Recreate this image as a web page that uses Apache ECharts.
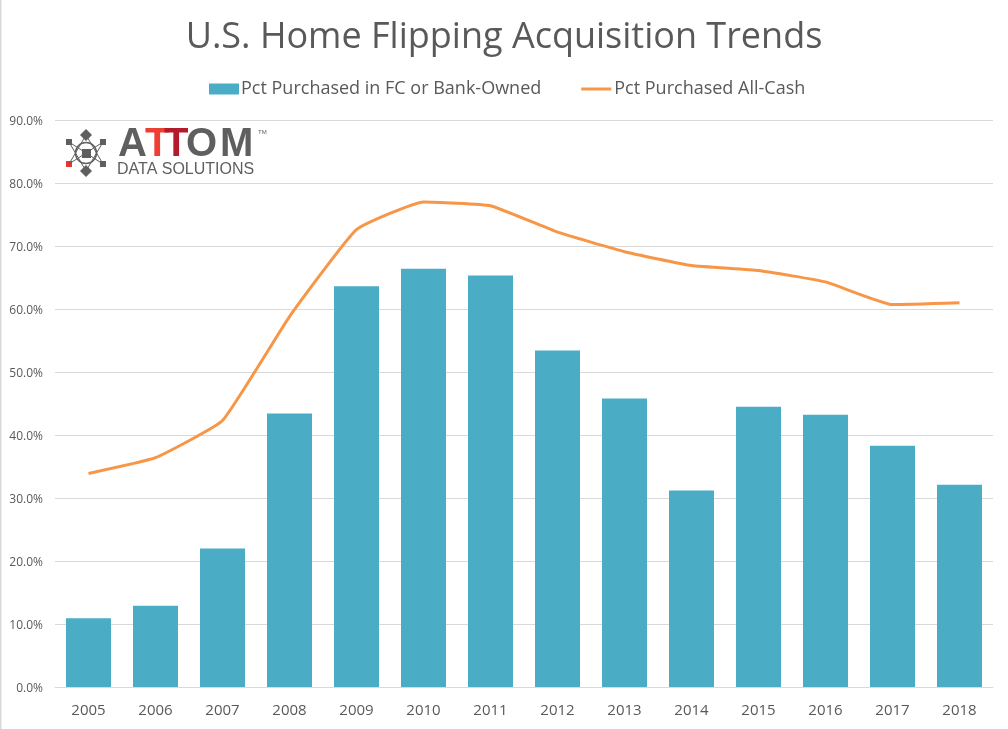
<!DOCTYPE html>
<html><head><meta charset="utf-8">
<style>html,body{margin:0;padding:0;background:#fff}#c{width:1008px;height:729px}</style>
<script src="https://cdn.jsdelivr.net/npm/echarts@6/dist/echarts.min.js"></script>
</head><body><div id="c"></div>
<script>
const categories = ['2005','2006','2007','2008','2009','2010','2011','2012','2013','2014','2015','2016','2017','2018'];
const fcBankOwned = [10.9,12.9,22.0,43.4,63.6,66.4,65.3,53.4,45.8,31.2,44.5,43.2,38.3,32.1];
const allCash = [33.9,36.4,42.3,58.8,72.6,77.0,76.4,72.2,69.1,66.9,66.1,64.3,60.7,61.0];
const seriesNames = ['Pct Purchased in FC or Bank-Owned','Pct Purchased All-Cash'];
const titleText = 'U.S. Home Flipping Acquisition Trends';

const FONT = '"Open Sans","Noto Sans",sans-serif';
const chart = echarts.init(document.getElementById('c'), null, {renderer:'canvas'});
const grey = '#595959';
const logoGrey = '#5f5f5f';
const atom = [
  {type:'polygon',shape:{points:[[86,129],[92,135],[86,141],[80,135]]},style:{fill:logoGrey}},
  {type:'polygon',shape:{points:[[86,165],[92,171],[86,177],[80,171]]},style:{fill:logoGrey}},
  {type:'rect',shape:{x:66,y:139,width:6,height:6},style:{fill:logoGrey}},
  {type:'rect',shape:{x:100,y:139,width:6,height:6},style:{fill:logoGrey}},
  {type:'rect',shape:{x:100,y:161,width:6,height:6},style:{fill:logoGrey}},
  {type:'rect',shape:{x:66,y:161,width:6,height:6},style:{fill:'#e8382e'}},
  {type:'rect',shape:{x:82,y:149,width:9,height:9},style:{fill:logoGrey}},
  {type:'circle',shape:{cx:86,cy:153,r:10.5},style:{fill:'none',stroke:logoGrey,lineWidth:1.5}},
  {type:'line',shape:{x1:69,y1:142,x2:86,y2:171},style:{stroke:logoGrey,lineWidth:1}},
  {type:'line',shape:{x1:103,y1:142,x2:86,y2:171},style:{stroke:logoGrey,lineWidth:1}},
  {type:'line',shape:{x1:69,y1:164,x2:86,y2:135},style:{stroke:logoGrey,lineWidth:1}},
  {type:'line',shape:{x1:103,y1:164,x2:86,y2:135},style:{stroke:logoGrey,lineWidth:1}},
  {type:'line',shape:{x1:69,y1:142,x2:103,y2:164},style:{stroke:logoGrey,lineWidth:1}},
  {type:'line',shape:{x1:103,y1:142,x2:69,y2:164},style:{stroke:logoGrey,lineWidth:1}}
];
const logoLetter = (x, ch, fill) => ({type:'text',style:{x,y:125,text:ch,fontFamily:'"Liberation Sans"',fontWeight:'bold',fontSize:40,fill}});
chart.setOption({
  animation:false,
  backgroundColor:'#fff',
  title:{text:titleText,left:'center',top:15,
    textStyle:{fontFamily:FONT,fontWeight:'normal',fontSize:36,color:grey}},
  legend:{top:75,left:204,itemGap:40,itemWidth:30,itemHeight:11,
    data:[
      {name:seriesNames[0],icon:'rect'},
      {name:seriesNames[1],icon:'path://M0 0H30V3H0Z',textStyle:{fontFamily:FONT,fontSize:18,color:grey,padding:[0,0,0,-2]}}
    ],
    textStyle:{fontFamily:FONT,fontSize:18,color:grey,padding:[0,0,0,-3]}},
  grid:{left:55,right:15,top:120,height:567},
  xAxis:{type:'category',data:categories,
    axisLine:{lineStyle:{color:'#d9d9d9',width:1}},axisTick:{show:false},
    axisLabel:{fontFamily:FONT,fontSize:15,color:grey,margin:16}},
  yAxis:{type:'value',min:0,max:90,interval:10,
    axisLine:{show:false},axisTick:{show:false},
    axisLabel:{margin:12,formatter:v=>'{t|'+v.toFixed(1)+'%}',
      rich:{t:{fontFamily:FONT,fontSize:12,color:grey,padding:[4,0,0,0]}}},
    splitLine:{lineStyle:{color:'#d9d9d9',width:1}}},
  series:[
    {name:seriesNames[0],type:'bar',data:fcBankOwned,barWidth:45,
      itemStyle:{color:'#4bacc6'}},
    {name:seriesNames[1],type:'line',data:allCash,smooth:0.12,symbol:'none',
      itemStyle:{color:'#f79646'},lineStyle:{color:'#f79646',width:3}}
  ],
  graphic:[
    {type:'rect',z:10,shape:{x:0,y:0,width:1.5,height:729},style:{fill:'#d9d9d9'}},
    {type:'group',z:10,children:atom.concat([
      logoLetter(118,'A',logoGrey),
      logoLetter(145,'T','#ef3e33'),
      logoLetter(164,'T','#b31b2c'),
      logoLetter(186,'O',logoGrey),
      logoLetter(220,'M',logoGrey),
      {type:'text',style:{x:258,y:129,text:'TM',fontFamily:'"Liberation Sans"',fontSize:6,fill:logoGrey}},
      {type:'text',style:{x:117,y:162,text:'DATA SOLUTIONS',fontFamily:'"Liberation Sans"',fontSize:16,fill:logoGrey}}
    ])}
  ]
});
</script></body></html>
